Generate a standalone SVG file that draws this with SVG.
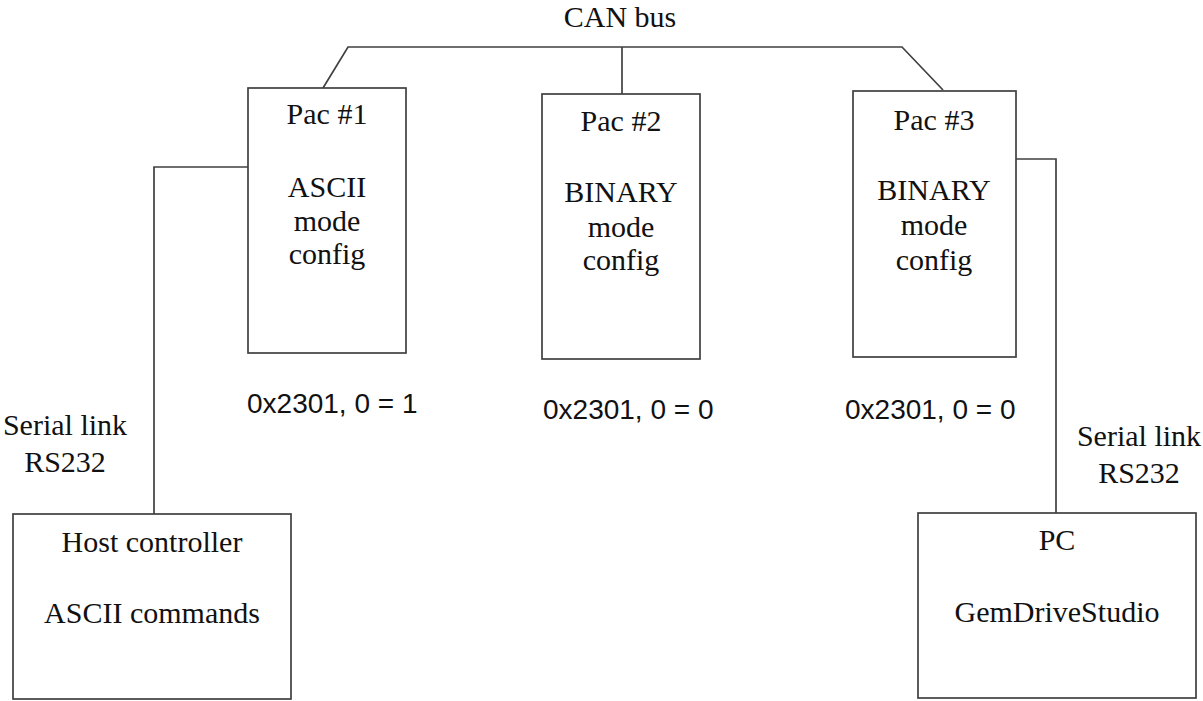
<svg xmlns="http://www.w3.org/2000/svg" width="1203" height="701" viewBox="0 0 1203 701">
<style>
.box{fill:#fff;stroke:#404040;stroke-width:1.7}
.ln{fill:none;stroke:#404040;stroke-width:1.7}
.t{font-family:"Liberation Serif","Times New Roman",serif;font-size:30px;fill:#111;text-anchor:middle}
.s{font-family:"Liberation Sans",Arial,sans-serif;font-size:28px;fill:#111}
</style>
<rect width="1203" height="701" fill="#fff"/>
<g id="connectors">
<polyline class="ln" points="323,88 348,47 902,47 943,90"/>
<line class="ln" x1="622" y1="47" x2="622" y2="94"/>
<polyline class="ln" points="248,167 154,167 154,514"/>
<polyline class="ln" points="1016,159 1056,159 1056,513"/>
</g>
<text class="t" x="620" y="27">CAN bus</text>
<g id="pac1">
<rect class="box" x="248" y="88" width="158" height="265"/>
<text class="t" x="327" y="124">Pac #1</text>
<text class="t" x="327" y="197">ASCII</text>
<text class="t" x="327" y="231">mode</text>
<text class="t" x="327" y="264">config</text>
</g>
<g id="pac2">
<rect class="box" x="542" y="94" width="158" height="265"/>
<text class="t" x="621" y="131">Pac #2</text>
<text class="t" x="621" y="202">BINARY</text>
<text class="t" x="621" y="237">mode</text>
<text class="t" x="621" y="270">config</text>
</g>
<g id="pac3">
<rect class="box" x="853" y="91" width="163" height="266"/>
<text class="t" x="934" y="130">Pac #3</text>
<text class="t" x="934" y="200">BINARY</text>
<text class="t" x="934" y="235">mode</text>
<text class="t" x="934" y="270">config</text>
</g>
<g id="labels">
<text class="s" x="247" y="413">0x2301, 0 = 1</text>
<text class="s" x="543" y="419">0x2301, 0 = 0</text>
<text class="s" x="845" y="419">0x2301, 0 = 0</text>
<text class="t" x="65" y="435">Serial link</text>
<text class="t" x="65" y="472">RS232</text>
<text class="t" x="1139" y="446">Serial link</text>
<text class="t" x="1139" y="483">RS232</text>
</g>
<g id="host">
<rect class="box" x="13" y="514" width="278" height="185"/>
<text class="t" x="152" y="552">Host controller</text>
<text class="t" x="152" y="623">ASCII commands</text>
</g>
<g id="pc">
<rect class="box" x="918" y="513" width="278" height="185"/>
<text class="t" x="1057" y="550">PC</text>
<text class="t" x="1057" y="622">GemDriveStudio</text>
</g>
</svg>
